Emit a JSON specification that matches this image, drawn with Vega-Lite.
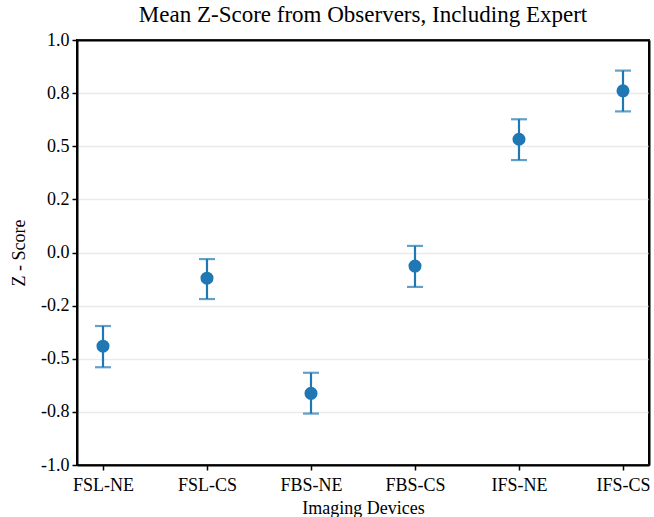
{
  "$schema": "https://vega.github.io/schema/vega-lite/v6.json",
  "width": 572,
  "height": 425,
  "autosize": {"type": "none"},
  "padding": {"left": 77, "top": 40, "right": 5, "bottom": 52},
  "title": {
    "text": "Mean Z-Score from Observers, Including Expert",
    "font": "Times New Roman, Liberation Serif, serif",
    "fontSize": 23,
    "fontWeight": "normal",
    "color": "black",
    "anchor": "middle",
    "offset": 4
  },
  "config": {
    "view": {"stroke": "black", "strokeWidth": 2},
    "font": "Times New Roman, Liberation Serif, serif",
    "axis": {
      "labelFont": "Times New Roman, Liberation Serif, serif",
      "titleFont": "Times New Roman, Liberation Serif, serif",
      "labelFontSize": 18,
      "titleFontSize": 18,
      "titleFontWeight": "normal",
      "labelColor": "black",
      "titleColor": "black",
      "domainColor": "black",
      "domainWidth": 2,
      "tickColor": "black",
      "tickWidth": 1.5,
      "tickSize": 5
    }
  },
  "data": {
    "values": [
      {"device": "FSL-NE", "mean": -0.441, "lo": -0.540, "hi": -0.346},
      {"device": "FSL-CS", "mean": -0.121, "lo": -0.219, "hi": -0.031},
      {"device": "FBS-NE", "mean": -0.663, "lo": -0.758, "hi": -0.566},
      {"device": "FBS-CS", "mean": -0.064, "lo": -0.162, "hi": 0.031},
      {"device": "IFS-NE", "mean": 0.533, "lo": 0.435, "hi": 0.627},
      {"device": "IFS-CS", "mean": 0.761, "lo": 0.664, "hi": 0.856}
    ]
  },
  "resolve": {"axis": {"x": "independent", "y": "independent"}},
  "layer": [
    {
      "mark": {"type": "rule", "color": "#1f77b4", "strokeWidth": 2.2},
      "encoding": {
        "x": {
          "field": "device",
          "type": "nominal",
          "sort": null,
          "scale": {"type": "point", "padding": 0.25},
          "axis": {
            "title": "Imaging Devices",
            "labelAngle": 0,
            "grid": false,
            "labelPadding": 6,
            "titlePadding": 5
          }
        },
        "y": {
          "field": "lo",
          "type": "quantitative",
          "scale": {"domain": [-1, 1], "nice": false, "zero": false},
          "axis": {
            "title": "Z - Score",
            "values": [-1, -0.75, -0.5, -0.25, 0, 0.25, 0.5, 0.75, 1],
            "labelExpr": "datum.value >= 0.99 ? '1.0' : datum.value >= 0.74 ? '0.8' : datum.value >= 0.49 ? '0.5' : datum.value >= 0.24 ? '0.2' : datum.value >= -0.01 ? '0.0' : datum.value >= -0.26 ? '-0.2' : datum.value >= -0.51 ? '-0.5' : datum.value >= -0.76 ? '-0.8' : '-1.0'",
            "grid": true,
            "gridColor": "#ebebeb",
            "gridWidth": 1.5,
            "labelPadding": 3,
            "titlePadding": 12
          }
        },
        "y2": {"field": "hi"}
      }
    },
    {
      "mark": {"type": "tick", "color": "#1f77b4", "thickness": 2.2, "size": 16, "orient": "horizontal"},
      "encoding": {
        "x": {"field": "device", "type": "nominal", "sort": null, "axis": null},
        "y": {"field": "lo", "type": "quantitative", "axis": null}
      }
    },
    {
      "mark": {"type": "tick", "color": "#1f77b4", "thickness": 2.2, "size": 16, "orient": "horizontal"},
      "encoding": {
        "x": {"field": "device", "type": "nominal", "sort": null, "axis": null},
        "y": {"field": "hi", "type": "quantitative", "axis": null}
      }
    },
    {
      "mark": {"type": "point", "filled": true, "size": 170, "opacity": 1, "color": "#1f77b4"},
      "encoding": {
        "x": {
          "field": "device",
          "type": "nominal",
          "sort": null,
          "axis": {"orient": "top", "title": null, "labels": false, "ticks": false, "grid": false, "domain": true, "domainColor": "black", "domainWidth": 2}
        },
        "y": {
          "field": "mean",
          "type": "quantitative",
          "axis": {"orient": "right", "title": null, "labels": false, "ticks": false, "grid": false, "domain": true, "domainColor": "black", "domainWidth": 2}
        }
      }
    }
  ]
}
